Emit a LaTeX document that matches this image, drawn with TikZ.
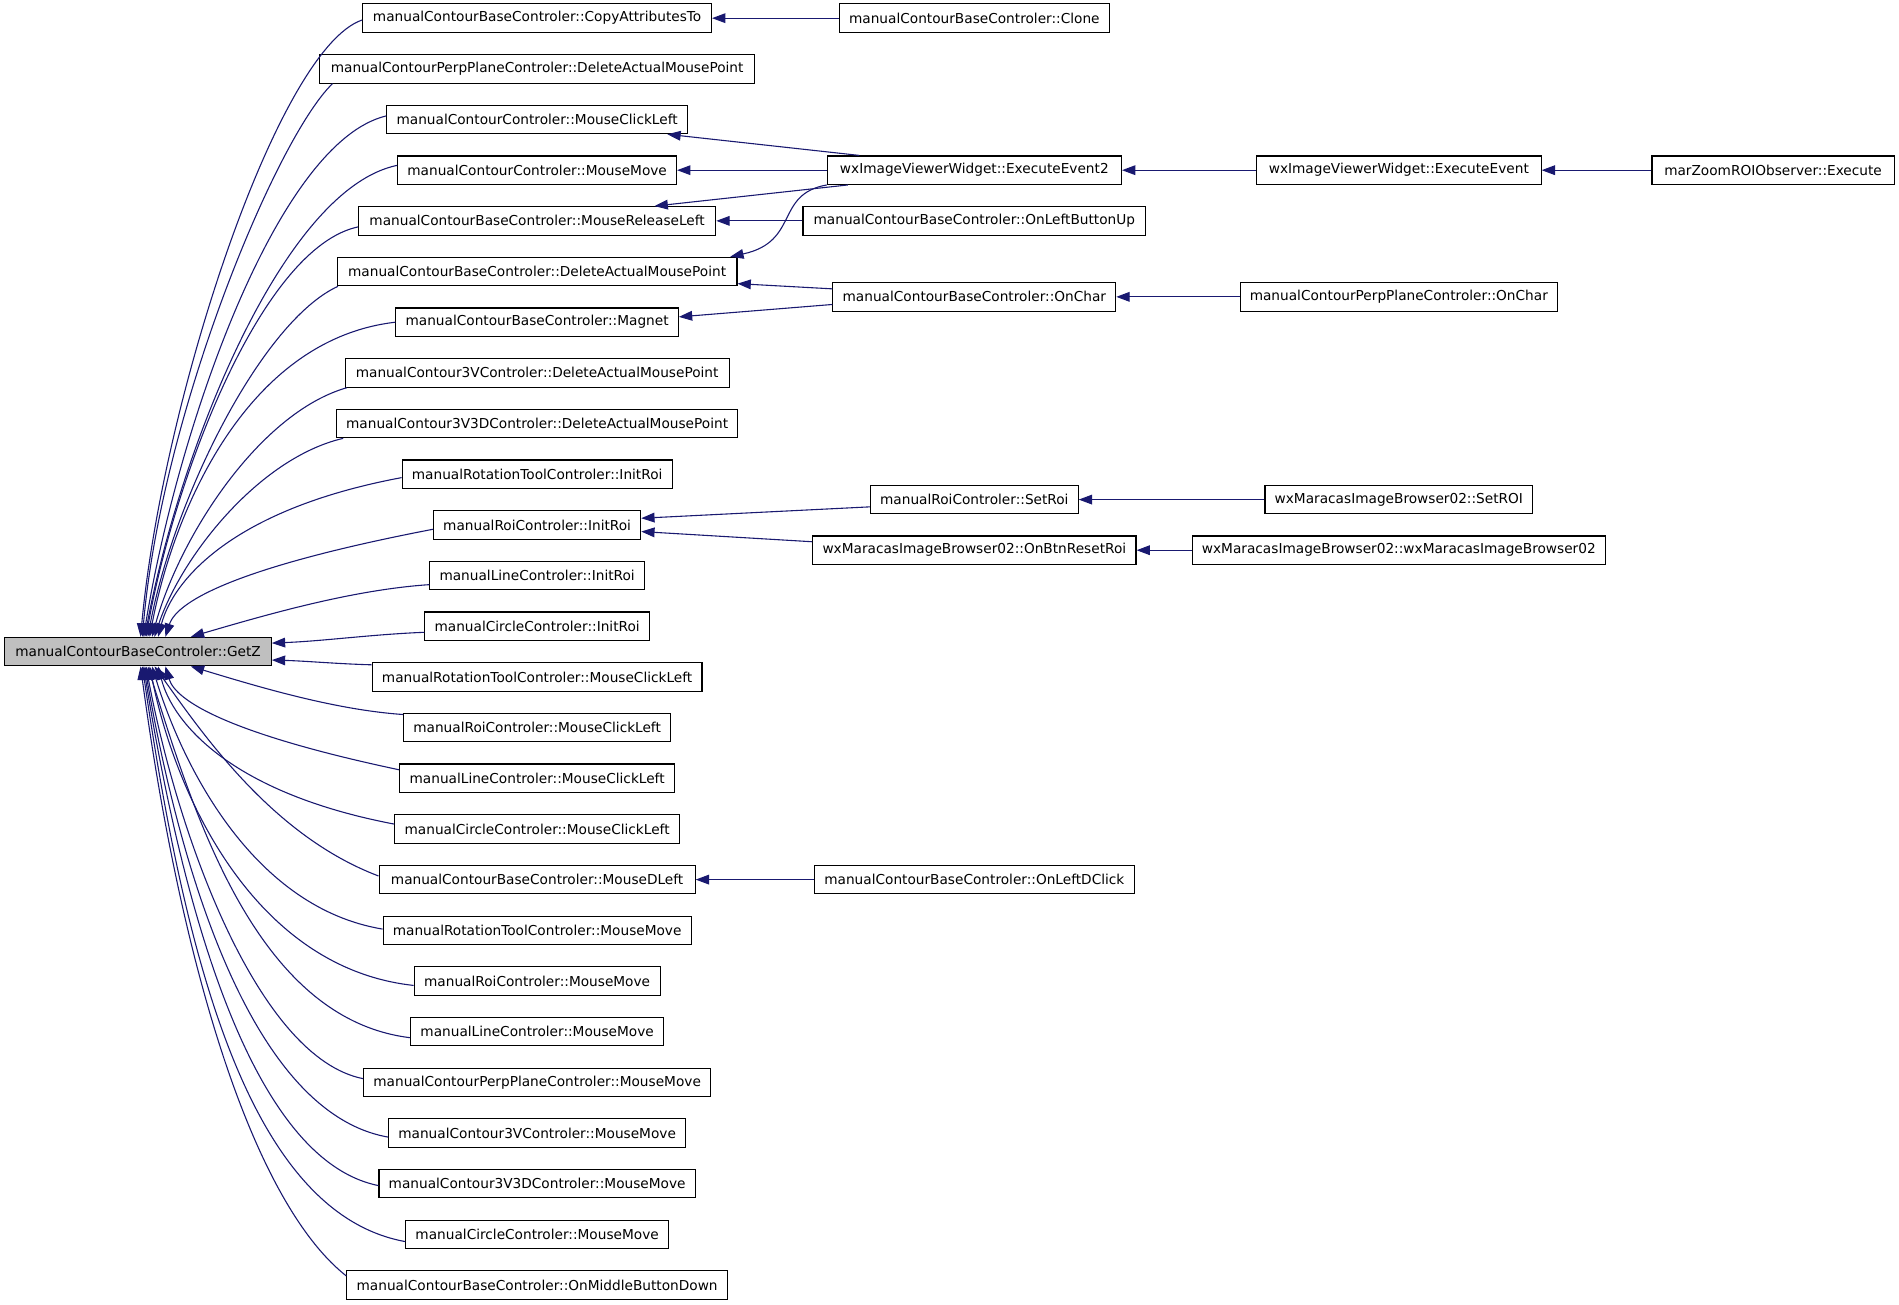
\documentclass[tikz,border=0pt]{standalone}
\usepackage{fontspec}
\setmainfont{DejaVu Sans}
\usetikzlibrary{arrows.meta,calc}
\definecolor{edgec}{HTML}{191970}
\definecolor{gzfill}{HTML}{BFBFBF}
\newcommand\gzedge[6]{%
  \draw[edge] let \p1=(#1), \p2=(#2) in (\p1) .. controls ($(\p1)+({#3*(\x2-\x1)},{#4*(\y2-\y1)})$) and ($(\p2)-({#5*(\x2-\x1)},{#6*(\y2-\y1)})$) .. (\p2);}
\begin{document}
\begin{tikzpicture}[x=1pt,y=-1pt,
  font=\fontsize{11.3}{13}\selectfont,
  box/.style={draw=black, line width=0.9pt, fill=white, minimum height=23.5pt, inner xsep=8pt, inner ysep=0pt, anchor=center},
  edge/.style={draw=edgec, line width=0.9pt, -{Triangle[length=11pt,width=8pt]}}]
\useasboundingbox (0,0) rectangle (1568,1077);
% column 1
\node[box, fill=gzfill, minimum width=220pt] (gz) at (114,538) {manualContourBaseControler::GetZ};
% column 2
\node[box, minimum width=288pt] (n1) at (443.5,15) {manualContourBaseControler::CopyAttributesTo};
\node[box, minimum width=359pt] (n2) at (443.5,56.84) {manualContourPerpPlaneControler::DeleteActualMousePoint};
\node[box, minimum width=248pt] (n3) at (443.5,98.68) {manualContourControler::MouseClickLeft};
\node[box, minimum width=230pt] (n4) at (443.5,140.52) {manualContourControler::MouseMove};
\node[box, minimum width=295pt] (n5) at (443.5,182.36) {manualContourBaseControler::MouseReleaseLeft};
\node[box, minimum width=330pt] (n6) at (443.5,224.2) {manualContourBaseControler::DeleteActualMousePoint};
\node[box, minimum width=233pt] (n7) at (443.5,266.04) {manualContourBaseControler::Magnet};
\node[box, minimum width=317pt] (n8) at (443.5,307.88) {manualContour3VControler::DeleteActualMousePoint};
\node[box, minimum width=331pt] (n9) at (443.5,349.72) {manualContour3V3DControler::DeleteActualMousePoint};
\node[box, minimum width=222pt] (n10) at (443.5,391.56) {manualRotationToolControler::InitRoi};
\node[box, minimum width=168pt] (n11) at (443.5,433.4) {manualRoiControler::InitRoi};
\node[box, minimum width=175pt] (n12) at (443.5,475.24) {manualLineControler::InitRoi};
\node[box, minimum width=184pt] (n13) at (443.5,517.08) {manualCircleControler::InitRoi};
\node[box, minimum width=272pt] (n14) at (443.5,558.92) {manualRotationToolControler::MouseClickLeft};
\node[box, minimum width=219pt] (n15) at (443.5,600.76) {manualRoiControler::MouseClickLeft};
\node[box, minimum width=227pt] (n16) at (443.5,642.6) {manualLineControler::MouseClickLeft};
\node[box, minimum width=235pt] (n17) at (443.5,684.44) {manualCircleControler::MouseClickLeft};
\node[box, minimum width=261pt] (n18) at (443.5,726.28) {manualContourBaseControler::MouseDLeft};
\node[box, minimum width=253pt] (n19) at (443.5,768.12) {manualRotationToolControler::MouseMove};
\node[box, minimum width=203pt] (n20) at (443.5,809.96) {manualRoiControler::MouseMove};
\node[box, minimum width=209pt] (n21) at (443.5,851.8) {manualLineControler::MouseMove};
\node[box, minimum width=285pt] (n22) at (443.5,893.64) {manualContourPerpPlaneControler::MouseMove};
\node[box, minimum width=244pt] (n23) at (443.5,935.48) {manualContour3VControler::MouseMove};
\node[box, minimum width=259pt] (n24) at (443.5,977.32) {manualContour3V3DControler::MouseMove};
\node[box, minimum width=216pt] (n25) at (443.5,1019.16) {manualCircleControler::MouseMove};
\node[box, minimum width=313pt] (n26) at (443.5,1061) {manualContourBaseControler::OnMiddleButtonDown};
% column 3
\node[box, minimum width=220pt] (clone) at (804.5,15) {manualContourBaseControler::Clone};
\node[box, minimum width=243pt] (ee2) at (804.5,140.52) {wxImageViewerWidget::ExecuteEvent2};
\node[box, minimum width=283pt] (olbu) at (804.5,182.36) {manualContourBaseControler::OnLeftButtonUp};
\node[box, minimum width=232pt] (onchar) at (804.5,245.1) {manualContourBaseControler::OnChar};
\node[box, minimum width=170pt] (setroi) at (804.5,412.5) {manualRoiControler::SetRoi};
\node[box, minimum width=267pt] (reset) at (804.5,454.3) {wxMaracasImageBrowser02::OnBtnResetRoi};
\node[box, minimum width=263pt] (oldc) at (804.5,726.28) {manualContourBaseControler::OnLeftDClick};
% column 4
\node[box, minimum width=235pt] (ee) at (1155,140.52) {wxImageViewerWidget::ExecuteEvent};
\node[box, minimum width=259pt] (ppchar) at (1155,245.1) {manualContourPerpPlaneControler::OnChar};
\node[box, minimum width=221pt] (setROI) at (1155,412.5) {wxMaracasImageBrowser02::SetROI};
\node[box, minimum width=336pt] (ctor) at (1155,454.3) {wxMaracasImageBrowser02::wxMaracasImageBrowser02};
% column 5
\node[box, minimum width=200pt] (mz) at (1464,140.52) {marZoomROIObserver::Execute};
% targets on GetZ
\foreach \n/\dx in {1/112.5,2/114,3/115,4/116,5/117,6/118.5,7/120,8/122,9/124,10/127,11/133,12/154}
  \coordinate (ta\n) at ([xshift=\dx pt]gz.north west);
\foreach \n/\dx in {15/154,16/133,17/127,18/124,19/122,20/120,21/118.5,22/117,23/116,24/115,25/114,26/112.5}
  \coordinate (tb\n) at ([xshift=\dx pt]gz.south west);
\coordinate (tr13) at ([yshift=7pt]gz.east);
\coordinate (tr14) at ([yshift=-7pt]gz.east);
% GetZ callers
\gzedge{[yshift=-1.5pt]n1.west}{ta1}{0.38}{0.046}{0.1}{0.386}
\gzedge{[xshift=11pt]n2.south west}{ta2}{0.3}{0.1}{0.1}{0.4}
\gzedge{[yshift=3pt]n3.west}{ta3}{0.45}{0.05}{0.14}{0.4}
\gzedge{[yshift=4pt]n4.west}{ta4}{0.45}{0.05}{0.14}{0.4}
\gzedge{[yshift=-5pt]n5.west}{ta5}{0.45}{0.05}{0.14}{0.4}
\gzedge{[xshift=1pt]n6.south west}{ta6}{0.4}{0.1}{0.14}{0.4}
\gzedge{n7.west}{ta7}{0.6}{0.054}{0.1}{0.41}
\gzedge{[xshift=2pt]n8.south west}{ta8}{0.45}{0.1}{0.14}{0.4}
\gzedge{[xshift=6pt]n9.south west}{ta9}{0.45}{0.1}{0.14}{0.4}
\gzedge{[yshift=-2.8pt]n10.west}{ta10}{0.7}{0.2}{0.06}{0.35}
\gzedge{[yshift=-3.6pt]n11.west}{ta11}{0.71}{0.34}{0.045}{0.345}
\gzedge{[yshift=-7.5pt]n12.west}{ta12}{0.33}{0.1}{0.3}{0.4}
\gzedge{[yshift=-5pt]n13.west}{tr13}{0.35}{0.2}{0.35}{0.2}
\gzedge{[yshift=10pt]n14.west}{tr14}{0.35}{0.2}{0.35}{0.2}
\gzedge{[yshift=10.8pt]n15.west}{tb15}{0.33}{0.1}{0.3}{0.4}
\gzedge{[yshift=7pt]n16.west}{tb16}{0.71}{0.34}{0.045}{0.345}
\gzedge{[yshift=4pt]n17.west}{tb17}{0.7}{0.2}{0.06}{0.35}
\gzedge{[yshift=3pt]n18.west}{tb18}{0.47}{0.19}{0.22}{0.33}
\gzedge{[yshift=1pt]n19.west}{tb19}{0.55}{0.08}{0.14}{0.4}
\gzedge{[yshift=-3.7pt]n20.west}{tb20}{0.6}{0.054}{0.1}{0.41}
\gzedge{[yshift=-5pt]n21.west}{tb21}{0.58}{0.05}{0.18}{0.41}
\gzedge{[yshift=3pt]n22.west}{tb22}{0.48}{0.05}{0.15}{0.42}
\gzedge{[yshift=-3.4pt]n23.west}{tb23}{0.55}{0.05}{0.15}{0.45}
\gzedge{[yshift=-1.6pt]n24.west}{tb24}{0.55}{0.05}{0.16}{0.45}
\gzedge{[yshift=-6pt]n25.west}{tb25}{0.6}{0.05}{0.16}{0.5}
\gzedge{[yshift=7.4pt]n26.west}{tb26}{0.45}{0.12}{0.2}{0.5}
% other calls
\draw[edge] (clone) -- (n1);
\draw[edge] (ee2) -- (n4);
\draw[edge] (olbu) -- (n5);
\draw[edge] (ee) -- (ee2);
\draw[edge] (mz) -- (ee);
\draw[edge] (ppchar) -- (onchar);
\draw[edge] (setROI) -- (setroi);
\draw[edge] (ctor) -- (reset);
\draw[edge] (oldc) -- (n18);
\draw[edge] ([xshift=27pt]ee2.north west) -- ([xshift=-17pt]n3.south east);
\draw[edge] ([xshift=17.5pt]ee2.south west) -- ([xshift=-51pt]n5.north east);
\draw[edge] (ee2.south west) .. controls ($(ee2.south west)+(-43,7.7)$) and ($([xshift=-6pt]n6.north east)+(57.5,-12.5)$) .. ([xshift=-6pt]n6.north east);
\draw[edge] ([yshift=6.6pt]onchar.west) -- ([yshift=-10pt]n6.east);
\draw[edge] ([yshift=-6.3pt]onchar.west) -- ([yshift=4.4pt]n7.east);
\draw[edge] ([yshift=-6pt]setroi.west) -- ([yshift=5.5pt]n11.east);
\draw[edge] ([yshift=7pt]reset.west) -- ([yshift=-5.5pt]n11.east);
\end{tikzpicture}
\end{document}
